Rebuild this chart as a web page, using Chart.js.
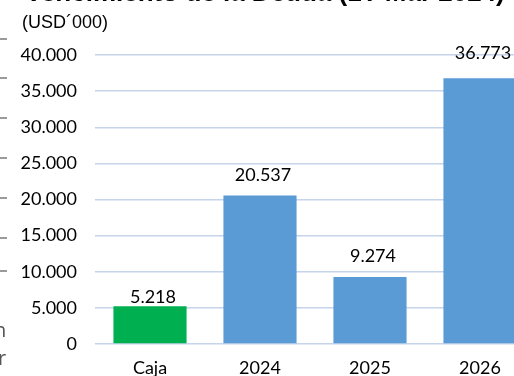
<!DOCTYPE html>
<html><head><meta charset="utf-8">
<script src="https://cdn.jsdelivr.net/npm/chart.js@4/dist/chart.umd.min.js"></script>
<style>
html,body{margin:0;padding:0;background:#fff;overflow:hidden;width:514px;height:376px;}
#wrap{position:relative;width:514px;height:376px;overflow:hidden;}
canvas{position:absolute;left:0;top:0;}
#title{position:absolute;left:25px;top:-23px;font:bold 26px "Liberation Sans",Arial,sans-serif;white-space:nowrap;color:#000;line-height:30px;}
#sub{position:absolute;left:22px;top:10px;font:18px "Liberation Sans",Arial,sans-serif;white-space:nowrap;color:#000;line-height:24px;}
.dash{position:absolute;left:0;width:7px;height:2px;background:#9a9a9a;}
.frag{position:absolute;font:20px "Open Sans",sans-serif;color:#555;line-height:20px;}
</style></head>
<body><div id="wrap">
<canvas id="c" width="540" height="376"></canvas>
<div id="title">Vencimiento de la Deuda (1T Mar 2024)</div>
<div id="sub">(USD´000)</div>
<div class="dash" style="top:38px"></div>
<div class="dash" style="top:77px"></div>
<div class="dash" style="top:117px"></div>
<div class="dash" style="top:157px"></div>
<div class="dash" style="top:197px"></div>
<div class="dash" style="top:237px"></div>
<div class="dash" style="top:270px"></div>
<div class="frag" style="left:-6px;top:320px">n</div>
<div class="frag" style="left:-2px;top:348px">r</div>
</div>
<script>
const categories = ["Caja", "2024", "2025", "2026"];
const values = [5218, 20537, 9274, 36773];
const yTicks = [0, 5000, 10000, 15000, 20000, 25000, 30000, 35000, 40000];

const barColors = ["#00B050", "#5B9BD5", "#5B9BD5", "#5B9BD5"];
const labelGap = [3, 15, 15, 19];

function fmt(v){ return v.toLocaleString('de-DE'); }

const labelPlugin = {
  id: 'vlabels',
  afterDatasetsDraw(chart){
    const ctx = chart.ctx;
    const meta = chart.getDatasetMeta(0);
    ctx.save();
    ctx.font = '18px Lato';
    ctx.fillStyle = '#000';
    ctx.textAlign = 'center';
    ctx.textBaseline = 'alphabetic';
    meta.data.forEach((bar, i) => {
      ctx.fillText(fmt(values[i]), bar.x + 3, bar.y - labelGap[i]);
    });
    ctx.restore();
  }
};

new Chart(document.getElementById('c'), {
  type: 'bar',
  data: {
    labels: categories,
    datasets: [{ data: values, backgroundColor: barColors, borderWidth: 0,
      categoryPercentage: 1.0, barPercentage: 0.665 }]
  },
  options: {
    responsive: false,
    animation: false,
    events: [],
    layout: { padding: { top: 55, right: 5, left: 0, bottom: 0 } },
    plugins: { legend: { display: false }, tooltip: { enabled: false }, title: { display: false } },
    scales: {
      x: {
        grid: { display: false, drawTicks: false },
        border: { display: false },
        ticks: { font: { family: 'Lato', size: 18 }, color: '#000', padding: 13 },
        afterFit(s){ s.height = 32; }
      },
      y: {
        min: 0, max: 40000,
        afterBuildTicks(s){ s.ticks = yTicks.map(v => ({ value: v })); },
        grid: { color: '#C5D4EA', lineWidth: 1.5, drawTicks: false },
        border: { display: false },
        ticks: { font: { family: 'Lato', size: 18 }, color: '#000', padding: 18,
          callback: v => fmt(v) },
        afterFit(s){ s.width = 95; }
      }
    }
  },
  plugins: [labelPlugin]
});
</script>
</body></html>
